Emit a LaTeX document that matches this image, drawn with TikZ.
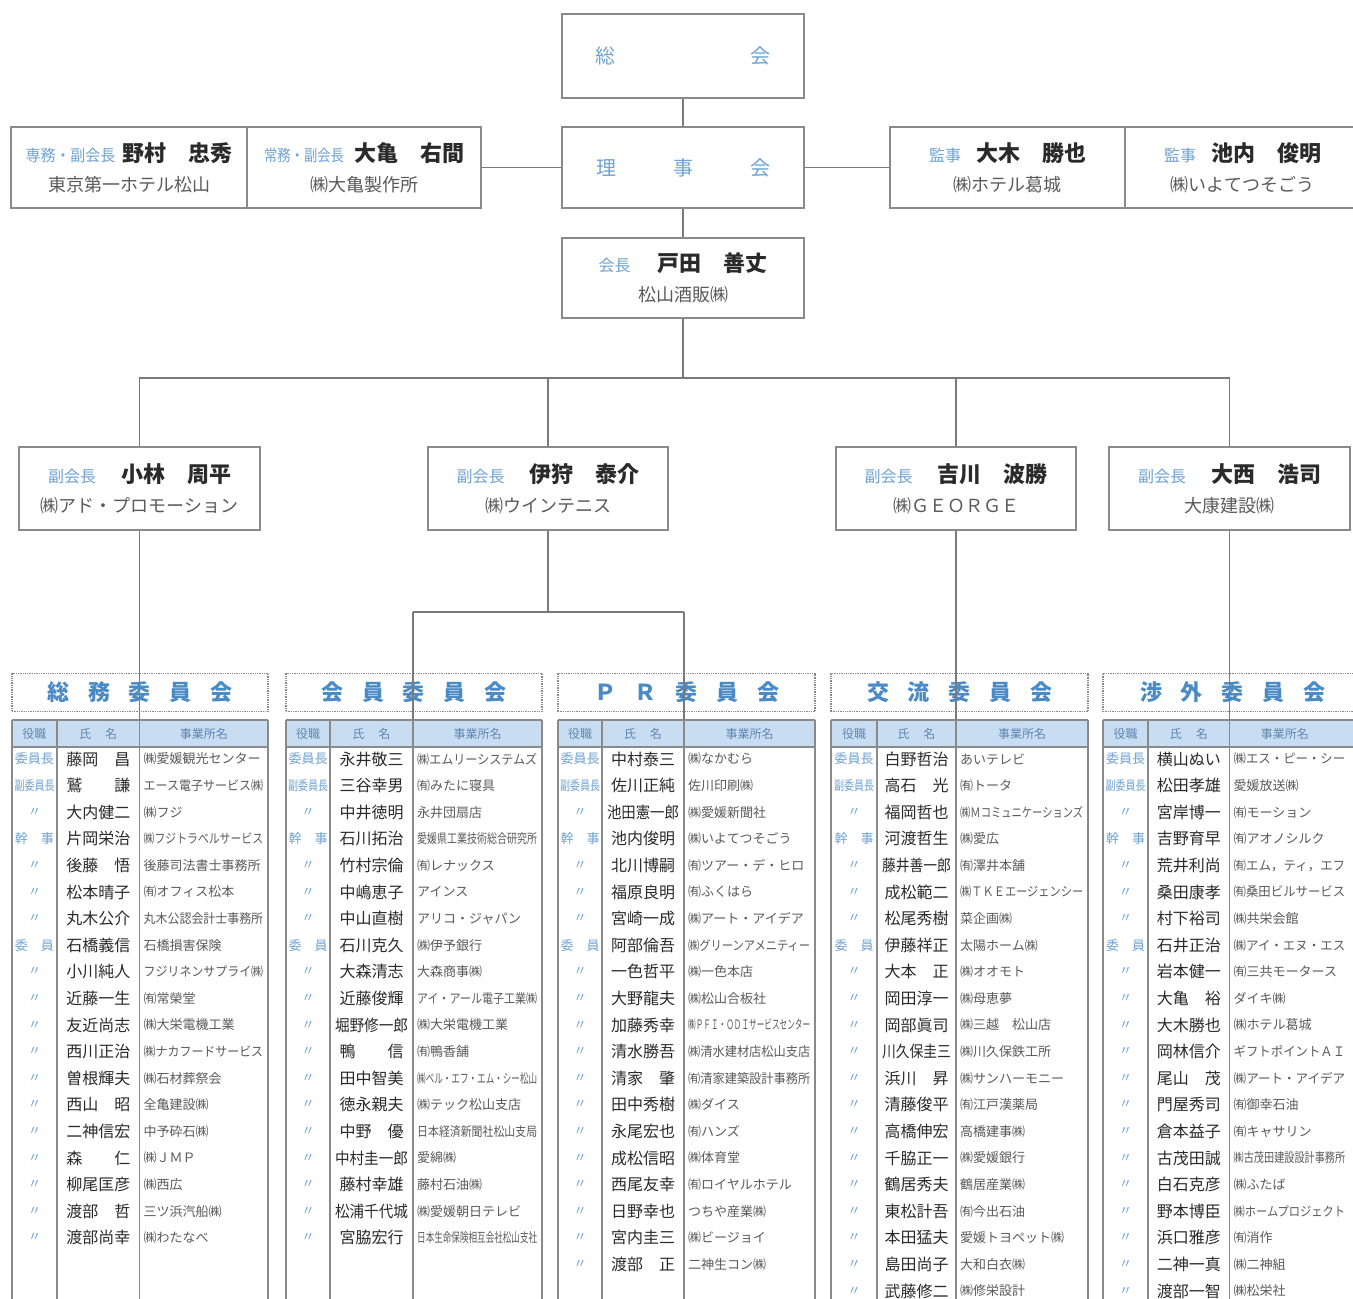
\documentclass[tikz,border=0pt]{standalone}
\usepackage{fontspec}
\setmainfont{Noto Sans CJK JP}
\usepackage{graphicx}
\definecolor{blu}{HTML}{6FA3D3}
\definecolor{tblu}{HTML}{4A8AC6}
\definecolor{boxc}{HTML}{8A8A8A}
\definecolor{linec}{HTML}{7A7A7A}
\definecolor{hdrf}{HTML}{C9DDF2}
\definecolor{hdrt}{HTML}{5E86B0}
\definecolor{nmc}{HTML}{2A2A2A}
\definecolor{cmc}{HTML}{5A5A5A}
\newsavebox\fitbx
\newcommand\fitto[2]{\begingroup\sbox\fitbx{#2}\ifdim\wd\fitbx>#1\relax\pgfmathsetmacro\fitr{\the\dimexpr#1\relax/\the\wd\fitbx}\scalebox{\fitr}[1]{\usebox\fitbx}\else\usebox\fitbx\fi\endgroup}
\tikzset{
  box/.style={draw=boxc, line width=1.4pt, fill=white, inner sep=0pt, align=center, font=\fontsize{18}{30}\selectfont, text=cmc},
  conn/.style={draw=linec, line width=1.1pt},
  tline/.style={draw=boxc, line width=1.2pt},
  titlebox/.style={draw=boxc, densely dotted, line width=1.3pt, minimum height=38pt, inner sep=0pt, text=tblu, font=\fontsize{22}{22}\selectfont\bfseries},
  hdrtxt/.style={inner sep=0pt, text=hdrt, font=\fontsize{12}{12}\selectfont},
  roletxt/.style={inner sep=0pt, text=blu, font=\fontsize{13}{13}\selectfont},
  nametxt/.style={inner sep=0pt, text=nmc, font=\fontsize{16}{16}\selectfont},
  comtxt/.style={inner sep=0pt, text=cmc, font=\fontsize{13}{13}\selectfont},
}
\newcommand\lbl[2]{{\color{blu}\fontsize{16}{30}\selectfont\fitto{#1}{#2}}}
\newcommand\nm[1]{{\color{nmc}\fontsize{22}{30}\selectfont\bfseries #1}}
\newcommand\comtable[7]{%
  \pgfmathsetmacro\cw{min(#5,1350)-#4-9}%
  \pgfmathsetmacro\nw{#4-#3-10}%
  \fill[hdrf] (#2,720) rectangle (#5,747);
  \draw[tline] (#2,720) -- (#5,720) (#2,747) -- (#5,747);
  \draw[tline] (#2,720) -- (#2,1320) (#3,720) -- (#3,1320) (#4,720) -- (#4,1320) (#5,720) -- (#5,1320);
  \node[titlebox, minimum width={#5pt-#2pt}] (#1t) at ({(#2+#5)/2},692.5) {\makebox[185pt][s]{#6}};
  \coordinate (#1top) at (#4,720);
  \node[hdrtxt] (#1h1) at ({(#2+#3)/2},733.5) {\fitto{38pt}{役職}};
  \node[hdrtxt] (#1h2) at ({(#3+#4)/2},733.5) {氏\hspace{14pt}名};
  \node[hdrtxt] (#1h3) at ({(#4+min(#5,1340))/2},733.5) {事業所名};
  \foreach \r/\n/\c [count=\i] in {#7} {
    \pgfmathsetmacro\yy{759+26.6*(\i-1)}
    \node[roletxt] (#1r\i) at ({(#2+#3)/2},\yy) {\fitto{40pt}{\r}};
    \node[nametxt] (#1n\i) at ({(#3+#4)/2},\yy) {\fitto{\nw pt}{\n}};
    \node[comtxt, anchor=west] (#1c\i) at (#4+4,\yy) {\fitto{\cw pt}{\c}};
  }
}
\begin{document}
\begin{tikzpicture}[x=1pt,y=-1pt]
\useasboundingbox (0,0) rectangle (1353,1299);
\fill[white] (0,0) rectangle (1353,1299);

% top boxes
\node[box, minimum width=242pt, minimum height=84pt] (sokai) at (683,56) {\color{blu}\fontsize{20}{20}\selectfont 総\hspace{135pt}会};
\node[box, minimum width=242pt, minimum height=81pt] (riji) at (683,167.5) {\color{blu}\fontsize{20}{20}\selectfont 理\hspace{57pt}事\hspace{57pt}会};
\node[box, minimum width=236pt, minimum height=81pt] (l1) at (129,167.5) {\lbl{90pt}{専務・副会長}\hspace{7pt}\nm{野村　忠秀}\\東京第一ホテル松山};
\node[box, minimum width=234pt, minimum height=81pt] (l2) at (364,167.5) {\lbl{80pt}{常務・副会長}\hspace{10pt}\nm{大亀　右間}\\㈱大亀製作所};
\node[box, minimum width=235pt, minimum height=81pt] (r1) at (1007.5,167.5) {\lbl{34pt}{監事}\hspace{15pt}\nm{大木　勝也}\\㈱ホテル葛城};
\node[box, minimum width=235pt, minimum height=81pt] (r2) at (1242.5,167.5) {\lbl{34pt}{監事}\hspace{15pt}\nm{池内　俊明}\\㈱いよてつそごう};
\node[box, minimum width=242pt, minimum height=80pt] (kaicho) at (683,278) {\lbl{34pt}{会長}\hspace{27pt}\nm{戸田　善丈}\\松山酒販㈱};

% vice presidents
\node[box, minimum width=241pt, minimum height=83pt] (vp1) at (139.5,488.5) {\lbl{52pt}{副会長}\hspace{25pt}\nm{小林　周平}\\㈱アド・プロモーション};
\node[box, minimum width=240pt, minimum height=83pt] (vp2) at (548,488.5) {\lbl{52pt}{副会長}\hspace{25pt}\nm{伊狩　泰介}\\㈱ウインテニス};
\node[box, minimum width=240pt, minimum height=83pt] (vp3) at (956,488.5) {\lbl{52pt}{副会長}\hspace{25pt}\nm{吉川　波勝}\\㈱ＧＥＯＲＧＥ};
\node[box, minimum width=241pt, minimum height=83pt] (vp4) at (1229.5,488.5) {\lbl{52pt}{副会長}\hspace{25pt}\nm{大西　浩司}\\大康建設㈱};

% committees
\comtable{ta}{12}{57}{139.5}{268}{総\hfill 務\hfill 委\hfill 員\hfill 会}{
委員長/藤岡　昌/㈱愛媛観光センター,
副委員長/鷲　　謙/エース電子サービス㈱,
〃/大内健二/㈱フジ,
幹　事/片岡栄治/㈱フジトラベルサービス,
〃/後藤　悟/後藤司法書士事務所,
〃/松本晴子/㈲オフィス松本,
〃/丸木公介/丸木公認会計士事務所,
委　員/石橋義信/石橋損害保険,
〃/小川純人/フジリネンサプライ㈱,
〃/近藤一生/㈲常榮堂,
〃/友近尚志/㈱大栄電機工業,
〃/西川正治/㈱ナカフードサービス,
〃/曽根輝夫/㈱石材葬祭会,
〃/西山　昭/全亀建設㈱,
〃/二神信宏/中予砕石㈱,
〃/森　　仁/㈱ＪＭＰ,
〃/柳尾匡彦/㈱西広,
〃/渡部　哲/三ツ浜汽船㈱,
〃/渡部尚幸/㈱わたなべ}

\comtable{tb}{286}{330}{413}{542}{会\hfill 員\hfill 委\hfill 員\hfill 会}{
委員長/永井敬三/㈱エムリーシステムズ,
副委員長/三谷幸男/㈲みたに寝具,
〃/中井徳明/永井団扇店,
幹　事/石川拓治/愛媛県工業技術総合研究所,
〃/竹村宗倫/㈲レナックス,
〃/中嶋恵子/アインス,
〃/中山直樹/アリコ・ジャパン,
委　員/石川克久/㈱伊予銀行,
〃/大森清志/大森商事㈱,
〃/近藤俊輝/アイ・アール電子工業㈱,
〃/堀野修一郎/㈱大栄電機工業,
〃/鴨　　信/㈲鴨香舗,
〃/田中智美/㈱ベル・エフ・エム・シー松山,
〃/徳永親夫/㈱テック松山支店,
〃/中野　優/日本経済新聞社松山支局,
〃/中村圭一郎/愛綿㈱,
〃/藤村幸雄/藤村石油㈱,
〃/松浦千代城/㈱愛媛朝日テレビ,
〃/宮脇宏行/日本生命保険相互会社松山支社}

\comtable{tc}{558}{602}{684}{815}{Ｐ\hfill Ｒ\hfill 委\hfill 員\hfill 会}{
委員長/中村泰三/㈱なかむら,
副委員長/佐川正純/佐川印刷㈱,
〃/池田憲一郎/㈱愛媛新聞社,
幹　事/池内俊明/㈱いよてつそごう,
〃/北川博嗣/㈲ツアー・デ・ヒロ,
〃/福原良明/㈲ふくはら,
〃/宮崎一成/㈱アート・アイデア,
委　員/阿部倫吾/㈱グリーンアメニティー,
〃/一色哲平/㈱一色本店,
〃/大野龍夫/㈱松山合板社,
〃/加藤秀幸/㈱ＰＦＩ・ＯＤＩサービスセンター,
〃/清水勝吾/㈱清水建材店松山支店,
〃/清家　肇/㈲清家建築設計事務所,
〃/田中秀樹/㈱ダイス,
〃/永尾宏也/㈲ハンズ,
〃/成松信昭/㈱体育堂,
〃/西尾友幸/㈲ロイヤルホテル,
〃/日野幸也/つちや産業㈱,
〃/宮内圭三/㈱ビージョイ,
〃/渡部　正/二神生コン㈱}

\comtable{td}{831}{877}{956}{1088}{交\hfill 流\hfill 委\hfill 員\hfill 会}{
委員長/白野哲治/あいテレビ,
副委員長/高石　光/㈲トータ,
〃/福岡哲也/㈱Ｍコミュニケーションズ,
幹　事/河渡哲生/㈱愛広,
〃/藤井善一郎/㈲澤井本舗,
〃/成松範二/㈱ＴＫＥエージェンシー,
〃/松尾秀樹/菜企画㈱,
委　員/伊藤祥正/太陽ホーム㈱,
〃/大本　正/㈱オオモト,
〃/岡田淳一/㈱母恵夢,
〃/岡部眞司/㈱三越　松山店,
〃/川久保圭三/㈱川久保鉄工所,
〃/浜川　昇/㈱サンハーモニー,
〃/清藤俊平/㈲江戸漢薬局,
〃/高橋伸宏/高橋建事㈱,
〃/千脇正一/㈱愛媛銀行,
〃/鶴居秀夫/鶴居産業㈱,
〃/東松計吾/㈲今出石油,
〃/本田猛夫/愛媛トヨペット㈱,
〃/島田尚子/大和白衣㈱,
〃/武藤修二/㈱修栄設計}

\comtable{te}{1103}{1148}{1229.5}{1362}{渉\hfill 外\hfill 委\hfill 員\hfill 会}{
委員長/横山ぬい/㈱エス・ピー・シー,
副委員長/松田孝雄/愛媛放送㈱,
〃/宮岸博一/㈲モーション,
幹　事/吉野育早/㈲アオノシルク,
〃/荒井利尚/㈲エム，ティ，エフ,
〃/桑田康孝/㈲桑田ビルサービス,
〃/村下裕司/㈱共栄会館,
委　員/石井正治/㈱アイ・エヌ・エス,
〃/岩本健一/㈲三共モータース,
〃/大亀　裕/ダイキ㈱,
〃/大木勝也/㈱ホテル葛城,
〃/岡林信介/ギフトポイントＡＩ,
〃/尾山　茂/㈱アート・アイデア,
〃/門屋秀司/㈲御幸石油,
〃/倉本益子/㈲キャサリン,
〃/古茂田誠/㈱古茂田建設設計事務所,
〃/白石克彦/㈱ふたば,
〃/野本博臣/㈱ホームプロジェクト,
〃/浜口雅彦/㈲消作,
〃/二神一真/㈱二神組,
〃/渡部一智/㈱松栄社}

% connectors
\draw[conn] (sokai) -- (riji);
\draw[conn] (riji) -- (kaicho);
\draw[conn] (riji.west) -- (l2.east);
\draw[conn] (riji.east) -- (r1.west);
\coordinate (bus) at (683,378);
\draw[conn] (kaicho.south) -- (bus);
\draw[conn] (vp1.north) |- (bus) -| (vp4.north);
\draw[conn] (vp2.north) -- (vp2.north |- bus);
\draw[conn] (vp3.north) -- (vp3.north |- bus);
\draw[conn] (vp1.south) -- (tatop);
\coordinate (split) at (548,612);
\draw[conn] (vp2.south) -- (split);
\draw[conn] (tbtop |- split) -- (tctop |- split);
\draw[conn] (tbtop |- split) -- (tbtop);
\draw[conn] (tctop |- split) -- (tctop);
\draw[conn] (vp3.south) -- (tdtop);
\draw[conn] (vp4.south) -- (tetop);
\end{tikzpicture}
\end{document}
